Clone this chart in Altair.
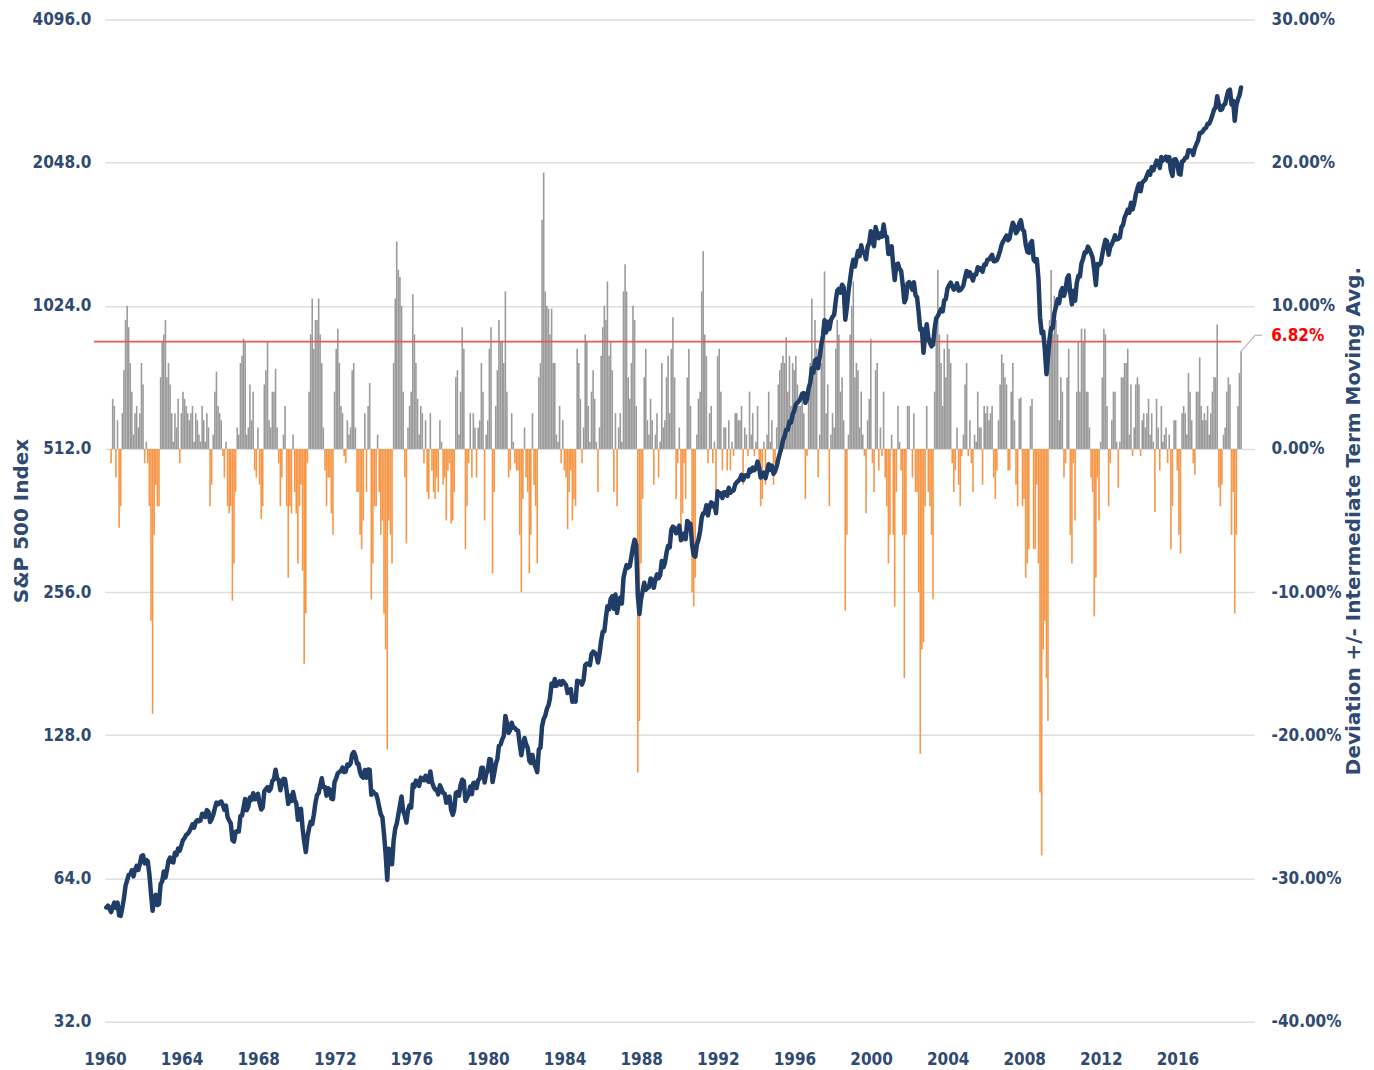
import altair as alt
import pandas as pd

# ---------------- data ----------------
# S&P 500, monthly closes (Jan 1960 ... Apr 2019)
sp_1960s = [
    55.61, 56.12, 55.34, 54.37, 55.83, 56.92, 55.51, 56.96, 53.52, 53.39, 55.54, 58.11,
    61.78, 63.44, 65.06, 65.31, 66.56, 64.64, 66.76, 68.07, 66.73, 68.62, 71.32, 71.55,
    68.84, 69.96, 69.55, 65.24, 59.63, 54.75, 58.23, 59.12, 56.27, 56.52, 62.26, 63.10,
    66.20, 64.29, 66.57, 69.80, 70.80, 69.37, 69.13, 72.50, 71.70, 74.01, 73.23, 75.02,
    77.04, 77.80, 78.98, 79.46, 80.37, 81.69, 83.18, 81.83, 84.18, 84.86, 84.42, 84.75,
    87.56, 87.43, 86.16, 89.11, 88.42, 84.12, 85.25, 87.17, 89.96, 92.42, 91.61, 92.43,
    92.88, 91.22, 89.23, 91.06, 86.13, 84.74, 83.60, 77.10, 76.56, 80.20, 80.45, 80.33,
    86.61, 86.78, 90.20, 94.01, 89.08, 90.64, 94.75, 93.64, 96.71, 93.90, 94.00, 96.47,
    92.24, 89.36, 90.20, 97.59, 98.68, 99.58, 97.74, 98.86, 102.67, 103.41, 108.37, 103.86,
    103.01, 98.13, 101.51, 103.69, 103.46, 97.71, 91.83, 95.51, 93.12, 97.24, 93.81, 92.06,
]
sp_1970s = [
    85.02, 89.50, 89.63, 81.52, 76.55, 72.72, 78.05, 81.52, 84.21, 83.25, 87.20, 92.15,
    95.88, 96.75, 100.31, 103.95, 99.63, 99.70, 95.58, 99.03, 98.34, 94.23, 93.99, 102.09,
    103.94, 106.57, 107.20, 107.67, 109.53, 107.14, 107.39, 111.09, 110.55, 111.58, 116.67, 118.05,
    116.03, 111.68, 111.52, 106.97, 104.95, 104.26, 108.22, 104.25, 108.43, 108.29, 95.96, 97.55,
    96.57, 96.22, 93.98, 90.31, 87.28, 86.00, 79.31, 72.15, 63.54, 73.90, 69.97, 68.56,
    76.98, 81.59, 83.36, 87.30, 91.15, 95.19, 88.75, 86.88, 83.87, 89.04, 91.24, 90.19,
    100.86, 99.71, 102.77, 101.64, 100.18, 104.28, 103.44, 102.91, 105.24, 102.90, 102.10, 107.46,
    102.03, 99.82, 98.42, 98.44, 96.12, 100.48, 98.85, 96.77, 96.53, 92.34, 94.83, 95.10,
    89.25, 87.04, 89.21, 96.83, 97.24, 95.53, 100.68, 103.29, 102.54, 93.15, 94.70, 96.11,
    99.93, 96.28, 101.59, 101.76, 99.08, 102.91, 103.81, 109.32, 109.32, 101.82, 106.16, 107.94,
]
sp_1980s = [
    114.16, 113.66, 102.09, 106.29, 111.24, 114.24, 121.67, 122.38, 125.46, 127.47, 140.52, 135.76,
    129.55, 131.27, 136.00, 132.81, 132.59, 131.21, 130.92, 122.79, 116.18, 121.89, 126.35, 122.55,
    120.40, 113.11, 111.96, 116.44, 111.88, 109.61, 107.09, 119.51, 120.42, 133.71, 138.54, 140.64,
    145.30, 148.06, 152.96, 164.42, 162.39, 168.11, 162.56, 164.40, 166.07, 163.55, 166.40, 164.93,
    163.41, 157.06, 159.18, 160.05, 150.55, 153.18, 150.66, 166.68, 166.10, 166.09, 163.58, 167.24,
    179.63, 181.18, 180.66, 179.83, 189.55, 191.85, 190.92, 188.63, 182.08, 189.82, 202.17, 211.28,
    211.78, 226.92, 238.90, 235.52, 247.35, 250.84, 236.12, 252.93, 231.32, 243.98, 249.22, 242.17,
    274.08, 284.20, 291.70, 288.36, 290.10, 304.00, 318.66, 329.80, 321.83, 251.79, 230.30, 247.08,
    257.07, 267.82, 258.89, 261.33, 262.16, 273.50, 272.02, 261.52, 271.91, 278.97, 273.70, 277.72,
    297.47, 288.86, 294.87, 309.64, 320.52, 317.98, 346.08, 351.45, 349.15, 340.36, 345.99, 353.40,
]
sp_1990s = [
    329.08, 331.89, 339.94, 330.80, 361.23, 358.02, 356.15, 322.56, 306.05, 304.00, 322.22, 330.22,
    343.93, 367.07, 375.22, 375.34, 389.83, 371.16, 387.81, 395.43, 387.86, 392.46, 375.22, 417.09,
    408.79, 412.70, 403.69, 414.95, 415.35, 408.14, 424.21, 414.03, 417.80, 418.68, 431.35, 435.71,
    438.78, 443.38, 451.67, 440.19, 450.19, 450.53, 448.13, 463.56, 458.93, 467.83, 461.79, 466.45,
    481.61, 467.14, 445.77, 450.91, 456.50, 444.27, 458.26, 475.49, 462.69, 472.35, 453.69, 459.27,
    470.42, 487.39, 500.71, 514.71, 533.40, 544.75, 562.06, 561.88, 584.41, 581.50, 605.37, 615.93,
    636.02, 640.43, 645.50, 654.17, 669.12, 670.63, 639.95, 651.99, 687.31, 705.27, 757.02, 740.74,
    786.16, 790.82, 757.12, 801.34, 848.28, 885.14, 954.29, 899.47, 947.28, 914.62, 955.40, 970.43,
    980.28, 1049.34, 1101.75, 1111.75, 1090.82, 1133.84, 1120.67, 957.28, 1017.01, 1098.67, 1163.63, 1229.23,
    1279.64, 1238.33, 1286.37, 1335.18, 1301.84, 1372.71, 1328.72, 1320.41, 1282.71, 1362.93, 1388.91, 1469.25,
]
sp_2000s = [
    1394.46, 1366.42, 1498.58, 1452.43, 1420.60, 1454.60, 1430.83, 1517.68, 1436.51, 1429.40, 1314.95, 1320.28,
    1366.01, 1239.94, 1160.33, 1249.46, 1255.82, 1224.38, 1211.23, 1133.58, 1040.94, 1059.78, 1139.45, 1148.08,
    1130.20, 1106.73, 1147.39, 1076.92, 1067.14, 989.82, 911.62, 916.07, 815.28, 885.76, 936.31, 879.82,
    855.70, 841.15, 848.18, 916.92, 963.59, 974.50, 990.31, 1008.01, 995.97, 1050.71, 1058.20, 1111.92,
    1131.13, 1144.94, 1126.21, 1107.30, 1120.68, 1140.84, 1101.72, 1104.24, 1114.58, 1130.20, 1173.82, 1211.92,
    1181.27, 1203.60, 1180.59, 1156.85, 1191.50, 1191.33, 1234.18, 1220.33, 1228.81, 1207.01, 1249.48, 1248.29,
    1280.08, 1280.66, 1294.83, 1310.61, 1270.09, 1270.20, 1276.66, 1303.82, 1335.85, 1377.94, 1400.63, 1418.30,
    1438.24, 1406.82, 1420.86, 1482.37, 1530.62, 1503.35, 1455.27, 1473.99, 1526.75, 1549.38, 1481.14, 1468.36,
    1378.55, 1330.63, 1322.70, 1385.59, 1400.38, 1280.00, 1267.38, 1282.83, 1166.36, 968.75, 896.24, 903.25,
    825.88, 735.09, 797.87, 872.81, 919.14, 919.32, 987.48, 1020.62, 1057.08, 1036.19, 1095.63, 1115.10,
]
sp_2010s = [
    1073.87, 1104.49, 1169.43, 1186.69, 1089.41, 1030.71, 1101.60, 1049.33, 1141.20, 1183.26, 1180.55, 1257.64,
    1286.12, 1327.22, 1325.83, 1363.61, 1345.20, 1320.64, 1292.28, 1218.89, 1131.42, 1253.30, 1246.96, 1257.60,
    1312.41, 1365.68, 1408.47, 1397.91, 1310.33, 1362.16, 1379.32, 1406.58, 1440.67, 1412.16, 1416.18, 1426.19,
    1498.11, 1514.68, 1569.19, 1597.57, 1630.74, 1606.28, 1685.73, 1632.97, 1681.55, 1756.54, 1805.81, 1848.36,
    1782.59, 1859.45, 1872.34, 1883.95, 1923.57, 1960.23, 1930.67, 2003.37, 1972.29, 2018.05, 2067.56, 2058.90,
    1994.99, 2104.50, 2067.89, 2085.51, 2107.39, 2063.11, 2103.84, 1972.18, 1920.03, 2079.36, 2080.41, 2043.94,
    1940.24, 1932.23, 2059.74, 2065.30, 2096.95, 2098.86, 2173.60, 2170.95, 2168.27, 2126.15, 2198.81, 2238.83,
    2278.87, 2363.64, 2362.72, 2384.20, 2411.80, 2423.41, 2470.30, 2471.65, 2519.36, 2575.26, 2647.58, 2673.61,
    2823.81, 2713.83, 2640.87, 2648.05, 2705.27, 2718.37, 2816.29, 2901.52, 2913.98, 2711.74, 2760.17, 2506.85,
    2704.10, 2784.49, 2834.40, 2945.83,
]

# Deviation from the intermediate-term moving average, percent (monthly)
dev_1960s = [
    None, None, None, -1.0, 3.5, 3.0, -2.0, 2.0, -5.5, -4.0, 2.5, 5.5,
    9.0, 10.0, 8.5, 6.0, 4.0, 1.0, 2.5, 3.0, 1.5, 2.5, 6.0, 4.5,
    -1.0, 0.5, -1.0, -4.0, -12.0, -18.5, -6.0, -2.5, -4.0, -4.0, 5.0, 7.5,
    8.0, 9.0, 5.0, 6.0, 4.5, 2.5, 0.5, 2.5, 1.5, 3.5, -1.0, 2.5,
    4.0, 3.5, 3.0, 2.5, 2.0, 2.5, 3.0, 0.5, 2.5, 2.0, 1.0, 0.5,
    3.0, 2.0, 0.5, 2.5, 1.5, -4.0, -2.5, 1.0, 4.0, 5.4, 3.0, 2.5,
    2.0, -0.5, -2.0, 0.5, -4.0, -4.5, -4.0, -10.6, -8.0, -3.0, 1.5, 1.0,
    6.0, 6.5, 7.7, 7.5, 1.0, 1.5, 4.5, 2.0, 4.0, -1.5, -2.0, 1.5,
    -2.5, -4.9, -4.0, 4.5, 5.5, 7.5, 2.0, 1.5, 4.0, 4.0, 5.6, 1.5,
    -1.0, -4.0, -2.0, 1.0, 3.0, -4.0, -9.0, -4.0, -4.5, 1.0, -3.0, -4.5,
]
dev_1970s = [
    -8.0, -4.0, -2.5, -8.5, -15.0, -11.5, -1.0, 4.0, 8.0, 10.5, 7.0, 9.0,
    9.0, 10.5, 8.0, 6.0, 1.5, -1.5, -4.0, -2.0, -2.0, -4.5, -6.0, 4.0,
    7.0, 8.4, 6.0, 3.0, 2.5, -0.5, -1.0, 2.0, 1.0, 1.5, 5.5, 6.0,
    1.5, -3.0, -3.0, -6.0, -7.0, -5.0, 2.5, -3.0, 3.0, 4.6, -10.5, -8.0,
    -4.0, -4.0, 1.0, -3.0, -6.0, -5.0, -11.5, -14.0, -21.0, -5.0, -6.0, -8.0,
    6.0, 10.5, 14.5, 12.5, 12.0, 10.0, 4.0, -2.0, -6.6, 1.5, 3.0, 4.0,
    10.8, 8.0, 6.0, 3.5, 1.0, 3.0, 2.5, -1.0, 2.0, -3.0, -3.5, 2.5,
    -1.5, -3.0, -3.5, -2.0, -3.0, 2.0, 0.5, -2.5, -2.0, -5.0, -1.5, -1.0,
    -5.2, -5.0, -3.0, 5.0, 5.5, 1.0, 4.0, 8.5, 7.0, -7.0, -4.0, -1.0,
    2.5, -2.0, 2.5, 1.5, -2.0, 1.5, 2.0, 6.0, 4.0, -5.0, 1.0, 2.0,
]
dev_1980s = [
    7.0, 8.5, -8.7, -3.0, 3.0, 5.5, 9.0, 7.5, 7.5, 6.0, 11.0, 4.0,
    -2.0, -1.5, 2.5, 0.5, -1.0, -1.5, -1.5, -6.0, -10.0, -3.5, 1.5, -2.0,
    -3.0, -8.7, -6.0, 2.5, -2.5, -4.0, -8.0, 5.0, 6.0, 16.0, 19.3, 11.0,
    10.0, 9.8, 8.0, 9.8, 6.0, 6.0, 1.0, 0.5, 3.0, -1.0, 2.0, -1.5,
    -2.0, -5.6, -3.0, -1.5, -5.0, -3.5, -4.0, 7.0, 6.0, 3.5, -1.0, 1.5,
    8.0, 7.5, 3.0, 0.5, 4.0, 5.5, 3.5, 0.5, -3.0, 1.5, 6.5, 8.5,
    10.0, 9.0, 11.7, 6.5, 7.5, 5.5, -3.0, 2.5, -4.0, 1.5, 2.5, 0.5,
    11.0, 12.9, 11.0, 5.0, 3.5, 6.0, 10.0, 9.0, 3.0, -22.6, -19.0, -8.0,
    -3.5, 5.0, 7.0, 2.0, 1.0, 3.5, 2.0, -2.5, 1.0, 2.5, -2.0, 0.5,
    6.0, 1.5, 2.0, 5.0, 6.5, 2.5, 7.0, 9.2, 5.0, -3.5, -1.0, 1.5,
]
dev_1990s = [
    -6.0, -4.5, -1.0, -3.5, 5.0, 7.0, 3.0, -10.0, -11.0, -9.0, 1.0, 3.5,
    4.0, 11.0, 13.8, 8.0, 6.5, -1.0, 2.5, 3.0, -1.0, 0.5, -3.5, 6.5,
    7.0, 4.0, -1.5, 1.5, 1.5, -1.5, 2.0, -1.5, 0.5, -0.5, 2.5, 2.5,
    2.0, 2.0, 3.0, -2.5, 1.5, 1.0, -0.5, 4.0, 1.0, 2.5, -0.5, 0.5,
    3.0, -1.0, -4.0, -3.5, 0.5, -2.5, 1.0, 4.0, 0.5, 2.0, -2.5, -1.0,
    1.5, 4.5, 5.5, 6.0, 6.5, 6.0, 7.8, 4.0, 6.5, 3.0, 6.0, 5.5,
    6.5, 4.5, 3.0, 3.0, 4.0, 2.5, -3.5, -0.5, 4.0, 6.0, 10.5, 6.0,
    9.0, 7.0, -2.0, 1.0, 6.0, 8.5, 12.4, 2.5, 4.5, -4.0, 1.0, 2.5,
    1.5, 7.0, 9.0, 8.0, 4.0, 5.0, 2.0, -11.3, -6.0, 1.0, 8.0, 10.0,
    11.7, 5.0, 6.0, 5.5, 1.5, 4.0, 1.0, -0.5, -4.5, 2.0, 3.5, 7.7,
]
dev_2000s = [
    -1.0, -3.0, 5.5, 6.0, -1.5, 1.5, -0.5, 4.0, -2.0, -4.0, -8.0, -6.0,
    1.0, -6.0, -11.0, -3.0, 3.0, 0.5, -1.5, -6.0, -16.0, -6.0, 3.0, 3.0,
    0.0, -2.0, 2.5, -3.0, -3.0, -10.0, -21.3, -14.0, -13.5, -4.0, 3.0, -3.0,
    -4.0, -6.0, -10.5, 4.0, 9.0, 12.5, 8.0, 6.0, 3.0, 7.0, 5.0, 8.0,
    7.0, 6.0, -1.0, -3.0, -1.5, 1.5, -2.5, -4.0, -0.5, 1.0, 4.5, 6.0,
    -0.5, 2.0, -1.0, -3.0, 1.0, 0.5, 4.0, 1.5, 1.5, -2.5, 3.0, 2.5,
    3.0, 2.0, 2.5, 3.0, -2.0, -3.5, -1.5, 2.0, 4.5, 6.6, 6.0, 5.0,
    4.5, -1.5, -1.5, 4.0, 6.0, 2.0, -2.5, -4.0, 3.5, 3.6, -4.0, -3.5,
    -9.0, -8.0, -7.0, 3.0, 3.5, -7.0, -7.0, -2.5, -8.0, -24.0, -28.4, -14.0,
    -12.0, -16.0, -19.0, 9.0, 12.5, 8.0, 10.7, 9.0, 8.0, 2.0, 5.0, 4.0,
]
dev_2010s = [
    -2.0, -1.0, 5.0, 7.0, -6.0, -8.0, -1.0, -5.0, 4.0, 7.5, 4.0, 8.4,
    7.5, 8.4, 4.0, 4.0, 1.5, -2.0, -3.0, -11.7, -9.0, -2.0, -5.0, 0.5,
    5.0, 8.4, 8.0, 3.0, -4.0, -1.0, 2.0, 4.0, 4.0, 0.5, -2.7, 0.5,
    5.0, 5.0, 6.0, 6.0, 7.0, 1.0, 4.5, -0.5, 1.5, 4.5, 5.0, 4.5,
    -0.5, 2.0, 2.5, 1.5, 2.5, 3.5, 1.0, 2.5, 0.5, -4.4, 3.5, 1.5,
    -1.5, 3.0, 0.5, 1.0, 1.5, -1.0, 1.0, -7.0, -4.0, 2.0, 2.0, -1.5,
    -6.0, -7.3, 2.5, 3.0, 2.5, 1.0, 5.3, 4.0, 2.0, -1.0, -1.8, 4.0,
    4.0, 6.4, 3.0, 2.0, 2.5, 2.0, 3.0, 1.0, 2.5, 4.0, 5.0, 5.0,
    8.7, -2.7, -4.0, -2.5, 1.0, 1.5, 4.0, 5.0, 4.5, -6.0, -3.0, -11.5,
    -6.0, 3.0, 5.3, 6.82,
]

year_ticks = list(range(1960, 2017, 4))
left_ticks = [32, 64, 128, 256, 512, 1024, 2048, 4096]
right_ticks = [-0.4, -0.3, -0.2, -0.1, 0.0, 0.1, 0.2, 0.3]
red_line_level = 0.075          # where the red reference line sits in the picture
red_line_label = "6.82%"
last_value = 0.0682

# ---------------- tables ----------------
sp = sp_1960s + sp_1970s + sp_1980s + sp_1990s + sp_2000s + sp_2010s
dev = dev_1960s + dev_1970s + dev_1980s + dev_1990s + dev_2000s + dev_2010s
dates = [f"{1960 + i // 12}-{i % 12 + 1:02d}-28" for i in range(len(sp))]

price_df = pd.DataFrame({"date": dates, "sp": sp})
dev_df = pd.DataFrame({"date": dates[:len(dev)], "dev": [None if d is None else d / 100 for d in dev]}).dropna()
rule_df = pd.DataFrame({"date": ["1959-06-05"], "date2": ["2019-05-01"], "dev": [red_line_level]})
lab_df = pd.DataFrame({"date": ["2019-05-01"], "dev": [red_line_level], "t": [red_line_label]})
lead_df = pd.DataFrame({"date": [dates[-1]], "dev": [last_value]})

LBL_FONT = "DejaVu Sans Condensed"
TTL_FONT = "DejaVu Sans"
BLUE = "#2f4a72"

xscale = alt.Scale(
    domain=[alt.DateTime(year=1960, month=1, date=1), alt.DateTime(year=2020, month=1, date=1)],
    padding=0,
)
xaxis = alt.Axis(
    values=[alt.DateTime(year=y, month=1, date=1) for y in year_ticks], format="%Y", title=None,
    grid=False, domain=False, ticks=False, labelFlush=False, labelPadding=30,
    labelFont=LBL_FONT, labelFontSize=17, labelFontWeight="bold", labelColor=BLUE,
)
rscale = alt.Scale(domain=[-0.4, 0.3], nice=False, zero=False)
lscale = alt.Scale(type="log", base=2, domain=[32, 4096], nice=False)

raxis = alt.Axis(
    orient="right", values=right_ticks,
    labelExpr="replace(format(datum.value, '.2%'), '\u2212', '-')",
    title="Deviation +/- Intermediate Term Moving Avg.", titleAngle=270, titleBaseline="top",
    titleFont=TTL_FONT, titleFontSize=20, titleFontWeight="bold", titleColor=BLUE, titlePadding=2,
    grid=False, domain=False, ticks=False, labelPadding=17,
    labelFont=LBL_FONT, labelFontSize=17, labelFontWeight="bold", labelColor=BLUE,
)

bars = alt.Chart(dev_df).mark_bar(width=1.6).encode(
    x=alt.X("date:T", scale=xscale, axis=xaxis),
    y=alt.Y("dev:Q", scale=rscale, axis=raxis),
    y2=alt.datum(0),
    color=alt.condition("datum.dev >= 0", alt.value("#9b9b9b"), alt.value("#f79646")),
)

rule = alt.Chart(rule_df).mark_rule(color="#f0564e", strokeWidth=1.8).encode(
    x=alt.X("date:T", scale=xscale, axis=xaxis),
    x2="date2:T",
    y=alt.Y("dev:Q", scale=rscale, axis=raxis),
)

lead1 = alt.Chart(lead_df).mark_rule(color="#bdbdbd", strokeWidth=1.3, x2Offset=14, y2Offset=-16).encode(
    x=alt.X("date:T", scale=xscale, axis=xaxis),
    x2="date:T",
    y=alt.Y("dev:Q", scale=rscale, axis=raxis),
    y2="dev:Q",
)
lead2 = alt.Chart(lead_df).mark_rule(color="#bdbdbd", strokeWidth=1.3, xOffset=14, x2Offset=21, yOffset=-16, y2Offset=-16).encode(
    x=alt.X("date:T", scale=xscale, axis=xaxis),
    x2="date:T",
    y=alt.Y("dev:Q", scale=rscale, axis=raxis),
    y2="dev:Q",
)

label = alt.Chart(lab_df).mark_text(
    align="left", baseline="middle", dx=30, dy=-6, color="#ff0000",
    font=LBL_FONT, fontSize=17, fontWeight="bold",
).encode(
    x=alt.X("date:T", scale=xscale, axis=xaxis),
    y=alt.Y("dev:Q", scale=rscale, axis=raxis),
    text="t:N",
)

right_layer = alt.layer(bars, rule, lead1, lead2, label)

line = alt.Chart(price_df).mark_line(color="#1f3d66", strokeWidth=4.5, strokeJoin="round", strokeCap="round").encode(
    x=alt.X("date:T", scale=xscale, axis=xaxis),
    y=alt.Y("sp:Q", scale=lscale, axis=alt.Axis(
        orient="left", values=left_ticks, format=".1f", title="S&P 500 Index",
        titleFont=TTL_FONT, titleFontSize=20, titleFontWeight="bold", titleColor=BLUE, titlePadding=0,
        grid=True, gridColor="#dedede", gridWidth=1.5, domain=False, ticks=False, labelPadding=14,
        labelFont=LBL_FONT, labelFontSize=17, labelFontWeight="bold", labelColor=BLUE,
    )),
)

chart = alt.layer(right_layer, line).resolve_scale(y="independent").properties(
    width=1150, height=1003, background="white",
    padding={"left": 3, "top": 2, "right": 2, "bottom": 2},
).configure_view(stroke="transparent", strokeWidth=0).configure_axis(domain=False)

chart.save("out.html", embed_options={"renderer": "svg", "actions": False})
